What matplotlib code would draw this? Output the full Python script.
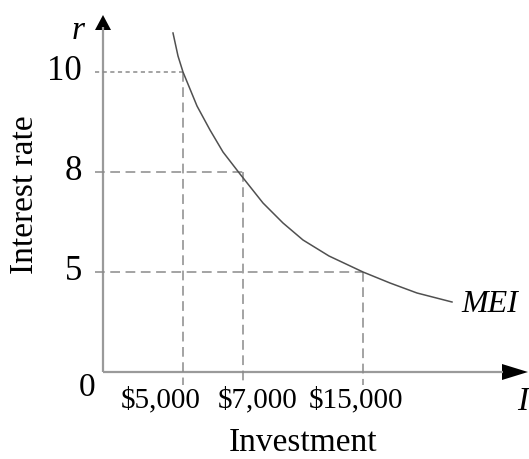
import numpy as np
import matplotlib
matplotlib.use("Agg")
import matplotlib.pyplot as plt

# Schematic MEI diagram (axes are not to scale, so positions are schematic units)
investment_labels = ["$5,000", "$7,000", "$15,000"]
rate_labels = ["10", "8", "5"]

# where each investment / rate sits on the schematic axes
invest_pos = [4.0, 7.0, 13.0]
rate_pos = [3.0, 2.0, 1.0]
label_pos = [2.9, 7.75, 12.65]

# MEI curve (schematic units)
mei_x = [3.5, 3.75, 4.0, 4.7, 5.35, 6.0, 6.85, 8.0, 9.0, 10.0, 11.3, 13.0, 14.35, 15.7, 17.45]
mei_y = [3.39, 3.16, 3.0, 2.66, 2.42, 2.2, 1.98, 1.69, 1.49, 1.32, 1.16, 1.0, 0.89, 0.79, 0.70]

plt.rcParams['font.family'] = ['Liberation Serif', 'DejaVu Serif']
plt.rcParams['lines.scale_dashes'] = False

fig = plt.figure(figsize=(5.29, 4.59), dpi=100)
ax = fig.add_axes([0, 0, 1, 1])
# 20 px per x unit, 100 px per y unit, origin at pixel (103, 372)
ax.set_xlim(-103 / 20, (529 - 103) / 20)
ax.set_ylim(-(459 - 372) / 100, 372 / 100)
ax.axis('off')

axis_col = '#9a9a9a'
dash_col = '#8a8a8a'

# axes with arrowheads
ax.plot([0, 0], [0, 3.45], color=axis_col, lw=1.6, solid_capstyle='butt')
ax.plot([0, 20.0], [0, 0], color=axis_col, lw=1.6, solid_capstyle='butt')
ax.fill([-0.4, 0.4, 0], [3.42, 3.42, 3.57], color='black', lw=0)
ax.fill([19.95, 19.95, 21.25], [0.08, -0.08, 0], color='black', lw=0)

# guide lines
long_dash = (7, 4)
short_dash = (3, 2.5)
for i, (xp, yp) in enumerate(zip(invest_pos, rate_pos)):
    ax.plot([-0.4, xp], [yp, yp], color=dash_col, lw=1.1,
            dashes=short_dash if i == 0 else long_dash)
    ax.plot([xp, xp], [yp, -0.13], color=dash_col, lw=1.1, dashes=long_dash)

# MEI curve
ax.plot(mei_x, mei_y, color='#505050', lw=1.1, solid_joinstyle='round')

# labels
for lab, yp in zip(rate_labels, rate_pos):
    ax.text(-1.05, yp, lab, ha='right', va='center', fontsize=25)
for lab, xp in zip(investment_labels, label_pos):
    ax.text(xp, -0.28, lab, ha='center', va='center', fontsize=21)
ax.text(-0.8, -0.16, "0", ha='center', va='center', fontsize=24)
ax.text(-1.25, 3.41, "r", ha='center', va='center', fontsize=24, style='italic')
ax.text(20.7, -0.38, "I", ha='left', va='baseline', fontsize=24, style='italic')
ax.text(19.35, 0.67, "MEI", ha='center', va='center', fontsize=23, style='italic')
ax.text(10.0, -0.79, "Investment", ha='center', va='baseline', fontsize=24)
ax.text(-3.9, 1.77, "Interest rate", ha='center', va='center', fontsize=24,
        rotation=90)

fig.savefig("out.png", dpi=100)
